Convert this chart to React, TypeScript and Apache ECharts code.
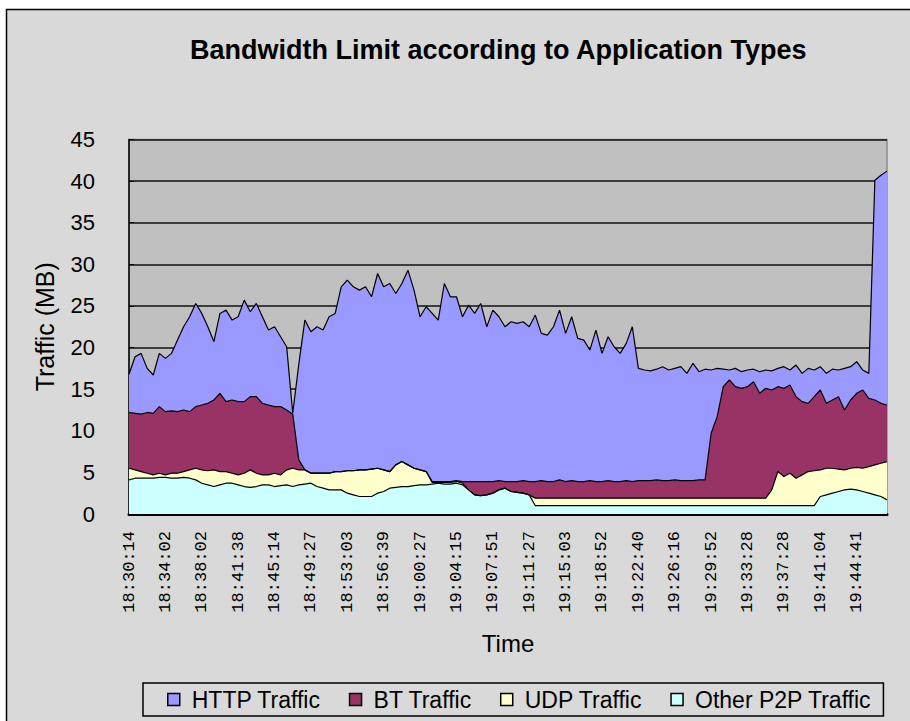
import React, { useEffect, useRef } from 'react';
import * as echarts from 'echarts';

const TITLE = 'Bandwidth Limit according to Application Types';
const Y_NAME = 'Traffic (MB)';
const X_NAME = 'Time';

// labelled timestamps, one every SAMPLES_PER_TICK samples
const TIME_TICKS = [
  '18:30:14', '18:34:02', '18:38:02', '18:41:38', '18:45:14', '18:49:27', '18:53:03',
  '18:56:39', '19:00:27', '19:04:15', '19:07:51', '19:11:27', '19:15:03', '19:18:52',
  '19:22:40', '19:26:16', '19:29:52', '19:33:28', '19:37:28', '19:41:04', '19:44:41',
];
const SAMPLES_PER_TICK = 6;

const Y_MIN = 0;
const Y_MAX = 45;
const Y_STEP = 5;

const HTTP_TRAFFIC = [
  4.6, 6.8, 7.3, 5.3, 4.6, 6.4, 6.4, 6.9, 8.6, 10.0,
  11.4, 12.4, 11.0, 9.2, 7.0, 9.6, 11.0, 9.6, 10.2, 12.2,
  10.2, 11.2, 10.4, 9.0, 9.6, 8.4, 7.6, 0.1, 11.5, 18.0,
  17.0, 17.6, 17.2, 18.8, 19.0, 22.2, 22.9, 22.1, 21.6, 22.0,
  20.7, 23.4, 22.0, 22.6, 20.6, 21.4, 23.4, 21.4, 18.4, 19.8,
  20.2, 19.4, 23.8, 22.2, 22.1, 19.8, 21.2, 20.2, 21.4, 18.6,
  20.6, 19.7, 18.6, 19.2, 19.0, 19.1, 18.6, 20.0, 17.7, 17.6,
  18.6, 20.4, 17.8, 19.7, 17.2, 17.0, 15.7, 18.2, 15.4, 17.3,
  16.2, 15.4, 16.5, 18.6, 13.5, 13.3, 13.2, 13.3, 13.7, 13.3,
  13.4, 13.7, 12.9, 14.1, 13.0, 13.3, 7.6, 5.8, 2.1, 1.2,
  2.2, 2.0, 2.0, 1.5, 2.6, 2.2, 2.3, 2.2, 2.6, 1.8,
  3.8, 3.4, 4.2, 3.2, 2.8, 3.6, 3.7, 3.2, 5.0, 4.0,
  3.8, 2.4, 3.0, 26.4, 27.4, 28.1,
];

const BT_TRAFFIC = [
  6.7, 6.8, 6.9, 7.3, 7.4, 8.0, 7.6, 7.5, 7.4, 7.4,
  7.0, 7.4, 7.8, 8.1, 8.4, 9.4, 8.4, 8.8, 8.8, 8.6,
  8.8, 9.2, 8.6, 8.4, 8.0, 8.2, 7.2, 6.5, 1.2, 0,
  0, 0, 0, 0, 0, 0, 0, 0, 0, 0,
  0, 0, 0, 0, 0, 0, 0, 0, 0, 0,
  0.1, 0.1, 0.1, 0.1, 0.1, 0.2, 1.0, 1.6, 1.7, 1.6,
  1.4, 1.1, 0.8, 1.2, 1.3, 1.5, 1.6, 2.0, 2.1, 2.0,
  2.0, 2.2, 2.0, 2.1, 2.0, 2.0, 2.1, 2.0, 2.0, 2.1,
  2.0, 2.0, 2.1, 2.0, 2.1, 2.1, 2.1, 2.2, 2.1, 2.1,
  2.2, 2.1, 2.1, 2.1, 2.2, 2.2, 7.8, 9.8, 13.4, 14.2,
  13.4, 13.2, 13.4, 14.0, 12.6, 13.2, 12.0, 10.2, 10.6, 10.6,
  9.8, 8.8, 8.2, 8.9, 9.6, 7.8, 8.2, 8.7, 7.2, 8.2,
  8.9, 9.4, 8.2, 7.8, 7.2, 6.8,
];

const UDP_TRAFFIC = [
  1.4, 1.0, 0.8, 0.6, 0.4, 0.5, 0.3, 0.6, 0.6, 0.7,
  1.0, 1.4, 1.6, 1.7, 2.0, 1.6, 1.4, 1.2, 1.2, 1.6,
  2.1, 1.6, 1.2, 1.2, 1.6, 1.3, 1.8, 2.2, 1.8, 1.7,
  1.2, 1.6, 1.8, 2.0, 2.2, 2.2, 2.7, 2.9, 3.2, 3.2,
  3.3, 3.0, 2.6, 2.0, 2.7, 3.0, 2.6, 2.1, 1.8, 1.6,
  0.2, 0.1, 0.2, 0.2, 0.2, 0.2, 0, 0, 0, 0,
  0, 0, 0, 0, 0, 0, 0, 0.9, 0.9, 0.9,
  0.9, 0.9, 0.9, 0.9, 0.9, 0.9, 0.9, 0.9, 0.9, 0.9,
  0.9, 0.9, 0.9, 0.9, 0.9, 0.9, 0.9, 0.9, 0.9, 0.9,
  0.9, 0.9, 0.9, 0.9, 0.9, 0.9, 0.9, 0.9, 0.9, 0.9,
  0.9, 0.9, 0.9, 0.9, 0.9, 0.9, 1.9, 4.1, 3.5, 3.9,
  3.3, 3.7, 4.1, 4.2, 3.2, 3.2, 3.0, 2.7, 2.4, 2.5,
  2.7, 2.8, 3.2, 3.6, 4.0, 4.6,
];

const OTHER_P2P_TRAFFIC = [
  4.1, 4.3, 4.3, 4.3, 4.3, 4.4, 4.4, 4.3, 4.3, 4.4,
  4.3, 4.1, 3.7, 3.5, 3.3, 3.5, 3.7, 3.7, 3.5, 3.3,
  3.2, 3.3, 3.5, 3.5, 3.3, 3.4, 3.5, 3.3, 3.5, 3.6,
  3.7, 3.3, 3.1, 2.9, 2.9, 2.9, 2.5, 2.3, 2.1, 2.1,
  2.1, 2.5, 2.7, 3.1, 3.2, 3.3, 3.3, 3.4, 3.5, 3.5,
  3.6, 3.7, 3.6, 3.6, 3.7, 3.5, 2.9, 2.3, 2.2, 2.3,
  2.5, 2.9, 3.1, 2.7, 2.6, 2.5, 2.3, 1.0, 1.0, 1.0,
  1.0, 1.0, 1.0, 1.0, 1.0, 1.0, 1.0, 1.0, 1.0, 1.0,
  1.0, 1.0, 1.0, 1.0, 1.0, 1.0, 1.0, 1.0, 1.0, 1.0,
  1.0, 1.0, 1.0, 1.0, 1.0, 1.0, 1.0, 1.0, 1.0, 1.0,
  1.0, 1.0, 1.0, 1.0, 1.0, 1.0, 1.0, 1.0, 1.0, 1.0,
  1.0, 1.0, 1.0, 1.0, 2.1, 2.3, 2.5, 2.7, 2.9, 3.0,
  2.9, 2.7, 2.5, 2.3, 2.1, 1.7,
];

const SERIES_NAMES = ['HTTP Traffic', 'BT Traffic', 'UDP Traffic', 'Other P2P Traffic'];
const SERIES_COLORS = ['#9999ff', '#993366', '#ffffcc', '#ccffff'];

const FONT = '"Liberation Sans", Arial, sans-serif';
const MONO = '"Liberation Mono", "DejaVu Sans Mono", monospace';

export default function App() {
  const ref = useRef<HTMLDivElement | null>(null);

  useEffect(() => {
    if (!ref.current) return;
    const chart = echarts.init(ref.current, undefined, { renderer: 'svg' });

    const categories = HTTP_TRAFFIC.map((_, i) =>
      i % SAMPLES_PER_TICK === 0 ? TIME_TICKS[i / SAMPLES_PER_TICK] ?? '' : ''
    );

    const seriesData = [HTTP_TRAFFIC, BT_TRAFFIC, UDP_TRAFFIC, OTHER_P2P_TRAFFIC];
    // stacking order: bottom first
    const order = [3, 2, 1, 0];
    const series = order.map((k) => ({
      name: SERIES_NAMES[k],
      type: 'line' as const,
      stack: 'traffic',
      data: seriesData[k],
      symbol: 'none',
      showSymbol: false,
      itemStyle: { color: SERIES_COLORS[k] },
      lineStyle: { color: '#000', width: 1.2 },
      areaStyle: { color: SERIES_COLORS[k], opacity: 1 },
      emphasis: { disabled: true },
    }));

    chart.setOption({
      animation: false,
      backgroundColor: '#ffffff',
      title: {
        text: TITLE,
        left: 190,
        top: 36,
        padding: 0,
        textStyle: { fontFamily: FONT, fontSize: 27, fontWeight: 'bold', color: '#000' },
      },
      graphic: [
        {
          type: 'rect',
          z: -100,
          silent: true,
          shape: { x: 6.5, y: 9.5, width: 930, height: 740 },
          style: { fill: '#d9d9d9', stroke: '#000', lineWidth: 1.5 },
        },
      ],
      legend: {
        data: SERIES_NAMES,
        left: 143,
        top: 683,
        padding: [5, 12, 5, 24],
        itemGap: 28,
        itemWidth: 12,
        itemHeight: 12,
        icon: 'rect',
        borderColor: '#000',
        borderWidth: 1.5,
        itemStyle: { borderColor: '#000', borderWidth: 1.5 },
        textStyle: { fontFamily: FONT, fontSize: 23, color: '#000', padding: [0, 0, 0, 7] },
      },
      grid: {
        left: 129,
        right: 23,
        top: 139.5,
        bottom: 207,
        show: true,
        backgroundColor: '#c0c0c0',
        borderColor: '#8c8c8c',
        borderWidth: 1.5,
      },
      xAxis: {
        type: 'category',
        data: categories,
        boundaryGap: false,
        name: X_NAME,
        nameLocation: 'middle',
        nameGap: 117,
        nameTextStyle: { fontFamily: FONT, fontSize: 24, color: '#000' },
        axisLine: { show: true, lineStyle: { color: '#000', width: 3 } },
        axisTick: {
          show: true,
          inside: true,
          length: 4,
          interval: SAMPLES_PER_TICK - 1,
          lineStyle: { color: '#e8ffff', width: 1 },
        },
        axisLabel: {
          interval: SAMPLES_PER_TICK - 1,
          rotate: 90,
          margin: 17,
          fontFamily: MONO,
          fontSize: 17,
          color: '#000',
        },
        splitLine: { show: false },
      },
      yAxis: {
        type: 'value',
        min: Y_MIN,
        max: Y_MAX,
        interval: Y_STEP,
        name: Y_NAME,
        nameLocation: 'middle',
        nameGap: 72,
        nameTextStyle: { fontFamily: FONT, fontSize: 25, color: '#000' },
        axisLine: { show: true, lineStyle: { color: '#000', width: 1.5 } },
        axisTick: { show: true, inside: true, length: 5, lineStyle: { color: '#000' } },
        axisLabel: { margin: 34, fontFamily: FONT, fontSize: 22, color: '#000' },
        splitLine: { show: true, lineStyle: { color: '#111', width: 1.5 } },
      },
      series,
    });

    return () => {
      chart.dispose();
    };
  }, []);

  return (
    <div
      ref={ref}
      style={{ position: 'fixed', left: 0, top: 0, width: 910, height: 721 }}
    />
  );
}
